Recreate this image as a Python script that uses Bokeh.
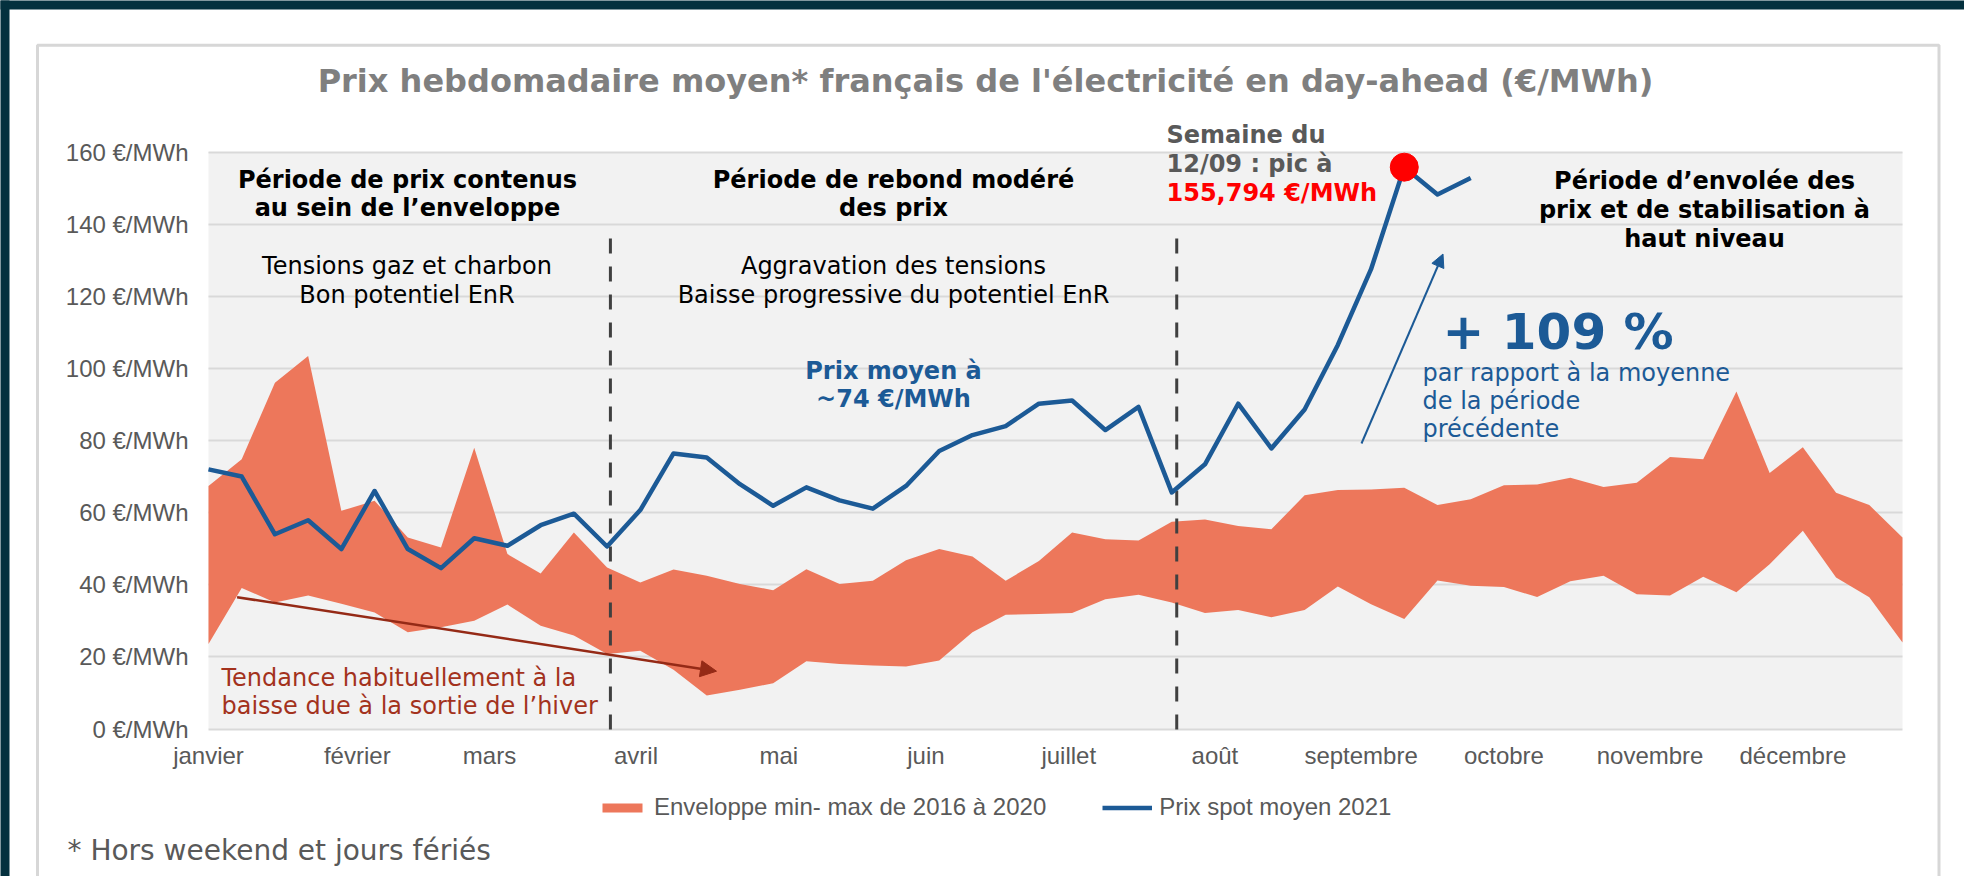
from bokeh.plotting import figure
from bokeh.models import (Range1d, FixedTicker, Label, Arrow, NormalHead,
                          BoxAnnotation, Legend, LegendItem)
from bokeh.embed import file_html
from bokeh.resources import INLINE

# ---------------- data ----------------
weeks_env = list(range(52))
env_min = [23.6, 39.1, 35.1, 37.0, 34.7, 32.3, 26.8, 28.2, 30.0, 34.5,
           28.6, 25.9, 20.8, 21.7, 16.4, 9.3, 10.9, 12.7, 18.8, 18.0,
           17.6, 17.3, 19.0, 26.8, 31.7, 31.9, 32.2, 36.0, 37.2, 35.1,
           32.2, 33.0, 31.0, 33.0, 39.5, 34.6, 30.5, 41.2, 39.7, 39.4,
           36.6, 41.0, 42.5, 37.4, 37.0, 42.2, 37.9, 45.7, 55.0, 42.0,
           36.5, 24.0]
env_max = [67.4, 74.8, 96.0, 103.4, 60.5, 63.3, 53.1, 50.3, 78.0, 48.5,
           43.1, 54.5, 44.8, 40.6, 44.2, 42.5, 40.2, 38.5, 44.3, 40.2,
           41.1, 46.8, 49.9, 47.8, 41.1, 46.6, 54.5, 52.6, 52.3, 57.5,
           58.1, 56.3, 55.4, 64.8, 66.3, 66.4, 66.9, 62.1, 63.7, 67.6,
           67.8, 69.7, 67.1, 68.3, 75.4, 74.8, 93.6, 71.0, 78.1, 65.5,
           62.1, 53.1]
weeks_spot = list(range(39))
spot_2021 = [72.0, 70.0, 54.0, 57.9, 49.9, 66.0, 49.9, 44.6, 52.9, 50.8,
             56.5, 59.7, 50.6, 60.7, 76.4, 75.3, 67.9, 61.9, 67.0, 63.4,
             61.1, 67.4, 77.1, 81.5, 84.0, 90.2, 91.1, 82.9, 89.3, 65.6,
             73.4, 90.2, 77.8, 88.6, 106.5, 127.5, 155.794, 148.2, 152.8]
peak_week = [36]
peak_value = [155.794]
period_breaks = [12.1, 29.15]
month_labels = ["janvier", "février", "mars", "avril", "mai", "juin",
                "juillet", "août", "septembre", "octobre", "novembre", "décembre"]
month_pos = [0, 4.48, 8.46, 12.87, 17.17, 21.6, 25.9, 30.3, 34.7, 39.0, 43.4, 47.7]
y_ticks = [0, 20, 40, 60, 80, 100, 120, 140, 160]
y_tick_labels = ["0 €/MWh", "20 €/MWh", "40 €/MWh", "60 €/MWh", "80 €/MWh",
                 "100 €/MWh", "120 €/MWh", "140 €/MWh", "160 €/MWh"]

# ---------------- styles / geometry ----------------
ENV = "#ed775b"
BLUE = "#1c5a96"
GREY_TXT = "#595959"
TITLE_GREY = "#7f7f7f"
DARK_RED = "#a3321d"
ARROW_RED = "#952a16"
PAGE_DARK = "#04303e"
ANN_FONT = "DejaVu Sans"
AX_FONT = "Liberation Sans"

W, H = 1964, 876
X0_PX, X51_PX = 208.0, 1902.0     # pixel position of week 0 and week 51
Y0_PX, Y160_PX = 728.5, 151.5     # pixel position of 0 and 160 €/MWh
XS = (X51_PX - X0_PX) / 51.0
YS = (Y0_PX - Y160_PX) / 160.0


def dx(px):
    return (px - X0_PX) / XS


def dy(py):
    return (Y0_PX - py) / YS


p = figure(width=W, height=H, output_backend="svg", toolbar_location=None,
           x_range=Range1d(dx(0), dx(W)), y_range=Range1d(dy(H), dy(0)),
           min_border=0, min_border_left=0, min_border_right=0,
           min_border_top=0, min_border_bottom=0,
           background_fill_color="white", border_fill_color="white",
           outline_line_color=None)

# plot area background
p.add_layout(BoxAnnotation(left=0, right=51, bottom=0, top=160, fill_color="#f2f2f2",
                           fill_alpha=1, line_color=None, level="image"))

# axes (drawn inside the canvas at the data origin)
p.xaxis.fixed_location = 0
p.yaxis.fixed_location = 0
p.xaxis.ticker = FixedTicker(ticks=month_pos)
p.xaxis.major_label_overrides = {pos: lab for pos, lab in zip(month_pos, month_labels)}
p.yaxis.ticker = FixedTicker(ticks=y_ticks)
p.yaxis.major_label_overrides = {t: lab for t, lab in zip(y_ticks, y_tick_labels)}
for ax in (p.xaxis[0], p.yaxis[0]):
    ax.axis_line_color = None
    ax.major_tick_line_color = None
    ax.minor_tick_line_color = None
    ax.major_tick_out = 0
    ax.major_tick_in = 0
    ax.major_label_text_font = AX_FONT
    ax.major_label_text_font_size = "24px"
    ax.major_label_text_color = GREY_TXT
p.xaxis.major_label_standoff = 13
p.yaxis.major_label_standoff = 20
p.xgrid.visible = False
g = p.ygrid[0]
g.ticker = FixedTicker(ticks=y_ticks)
g.grid_line_color = "#d9d9d9"
g.grid_line_width = 2
if "cross_bounds" in g.properties():
    g.cross_bounds = (0, 51)
else:
    g.visible = False
    p.segment(x0=[0] * len(y_ticks), y0=y_ticks, x1=[51] * len(y_ticks), y1=y_ticks,
              line_color="#d9d9d9", line_width=2)

# marks
env_r = p.varea(x=weeks_env, y1=env_min, y2=env_max, fill_color=ENV)
p.segment(x0=period_breaks, y0=[136] * len(period_breaks), x1=period_breaks,
          y1=[-1] * len(period_breaks), line_color="#404040", line_width=3,
          line_dash="15 13")
line_r = p.line(weeks_spot, spot_2021, line_color=BLUE, line_width=4.5, line_join="round")
p.scatter(peak_week, peak_value, size=28, fill_color="#ff0000", line_color="#ff0000")

# legend
legend = Legend(items=[LegendItem(label="Enveloppe min- max de 2016 à 2020", renderers=[env_r]),
                       LegendItem(label="Prix spot moyen 2021", renderers=[line_r])],
                orientation="horizontal", location=(597, 55),
                padding=0, margin=0, spacing=56, glyph_width=50, glyph_height=11,
                label_standoff=7, label_text_font=AX_FONT, label_text_font_size="24px",
                label_text_color=GREY_TXT, border_line_color=None,
                background_fill_alpha=0)
p.add_layout(legend, "center")

# page frame: dark edge and chart box outline
p.add_layout(BoxAnnotation(left=dx(-5), right=dx(W + 5), top=dy(-5), bottom=dy(9),
                           fill_color=PAGE_DARK, fill_alpha=1, line_color=None))
p.add_layout(BoxAnnotation(left=dx(-5), right=dx(9), top=dy(-5), bottom=dy(H + 5),
                           fill_color=PAGE_DARK, fill_alpha=1, line_color=None))
p.add_layout(BoxAnnotation(left=dx(37), right=dx(1938.5), top=dy(44.7), bottom=dy(H + 20),
                           fill_color=None, line_color="#7a7a7a", line_width=3))


def add_lines(lines, x, base0, step, align, color, bold, size=24, font=ANN_FONT):
    for k, t in enumerate(lines):
        base = base0 + k * step - 0.35 * size
        p.add_layout(Label(x=dx(x), y=dy(base), text=t, text_align=align,
                           text_baseline="alphabetic", text_font=font,
                           text_font_size=f"{size}px", text_color=color,
                           text_font_style="bold" if bold else "normal"))


# title & footnote
add_lines(["Prix hebdomadaire moyen* français de l'électricité en day-ahead (€/MWh)"],
          985, 91.7, 0, "center", TITLE_GREY, True, size=32)
add_lines(["* Hors weekend et jours fériés"], 67, 859.3, 0, "left", GREY_TXT, False, size=28)

# period headings and comments
add_lines(["Période de prix contenus", "au sein de l’enveloppe"], 407, 188.3, 28, "center", "#000000", True)
add_lines(["Période de rebond modéré", "des prix"], 893, 188.3, 28, "center", "#000000", True)
add_lines(["Période d’envolée des", "prix et de stabilisation à", "haut niveau"],
          1704, 189.3, 28.6, "center", "#000000", True)
add_lines(["Tensions gaz et charbon", "Bon potentiel EnR"], 406.5, 273.5, 29, "center", "#000000", False)
add_lines(["Aggravation des tensions", "Baisse progressive du potentiel EnR"], 893, 273.5, 29,
          "center", "#000000", False)
add_lines(["Semaine du", "12/09 : pic à"], 1166, 143.3, 28.6, "left", GREY_TXT, True)
add_lines(["155,794 €/MWh"], 1166, 201, 0, "left", "#ff0000", True)
add_lines(["Prix moyen à", "~74 €/MWh"], 893, 379, 28.3, "center", BLUE, True)
add_lines(["+ 109 %"], 1442, 349, 0, "left", BLUE, True, size=50)
add_lines(["par rapport à la moyenne", "de la période", "précédente"], 1422, 380.7, 28,
          "left", BLUE, False)
add_lines(["Tendance habituellement à la", "baisse due à la sortie de l’hiver"], 221, 686, 27.5,
          "left", DARK_RED, False)

# arrows
p.add_layout(Arrow(x_start=dx(1361), y_start=dy(443), x_end=dx(1442.5), y_end=dy(253.5),
                   line_color=BLUE, line_width=2,
                   end=NormalHead(size=13, fill_color=BLUE, line_color=BLUE)))
p.add_layout(Arrow(x_start=dx(236.6), y_start=dy(596.7), x_end=dx(716), y_end=dy(670.7),
                   line_color=ARROW_RED, line_width=2.5,
                   end=NormalHead(size=16, fill_color=ARROW_RED, line_color=ARROW_RED)))

open("out.html", "w").write(file_html(p, INLINE))
